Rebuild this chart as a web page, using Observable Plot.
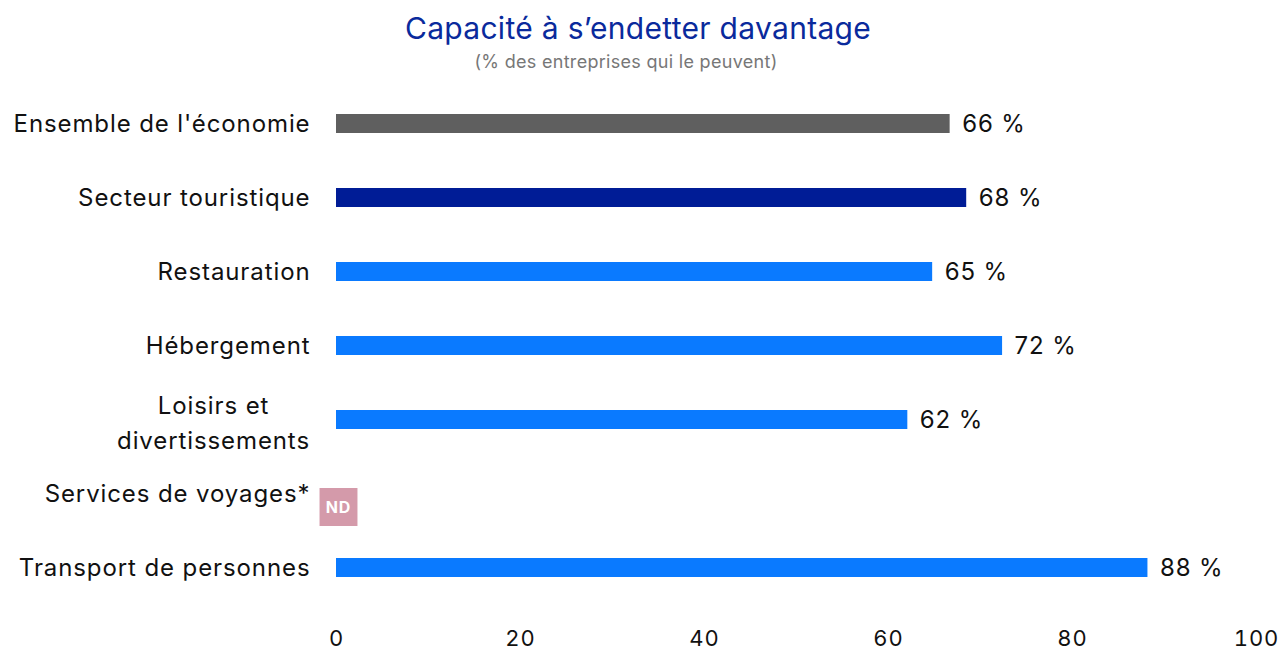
<!DOCTYPE html>
<html>
<head>
<meta charset="utf-8">
<script src="https://cdn.jsdelivr.net/npm/d3@7"></script>
<script src="https://cdn.jsdelivr.net/npm/@observablehq/plot@0.6"></script>
<style>
  html, body { margin: 0; padding: 0; background: #fff; }
  #wrap { width: 1286px; font-family: Inter, "Noto Sans", sans-serif; }
  #title { text-align: center; color: #0a2a9c; font-size: 30px; letter-spacing: 0.3px; height: 48px; line-height: 56px; padding-right: 10px; }
  #subtitle { text-align: center; color: #777; font-size: 18px; letter-spacing: 0.3px; height: 32px; line-height: 28px; padding-right: 34px; }
  #chart svg { display: block; }
</style>
</head>
<body>
<div id="wrap">
  <div id="title">Capacité à s’endetter davantage</div>
  <div id="subtitle">(% des entreprises qui le peuvent)</div>
  <div id="chart"></div>
</div>
<script>
const categories = ["Ensemble de l'économie", "Secteur touristique", "Restauration", "Hébergement", "Loisirs et divertissements", "Services de voyages*", "Transport de personnes"];
const values = [66.7, 68.5, 64.8, 72.4, 62.1, null, 88.2];
const valueLabels = ["66 %", "68 %", "65 %", "72 %", "62 %", "ND", "88 %"];
const groups = ["economie", "tourisme", "sous", "sous", "sous", "sous", "sous"];
const xTicks = [0, 20, 40, 60, 80, 100];
const wrappedCategory = "Loisirs et divertissements";
const wrappedLabel = "Loisirs et\ndivertissements";

const colors = {economie: "#5f5f5f", tourisme: "#001c96", sous: "#0a7aff"};

const data = categories.map((c, i) => ({category: c, value: values[i], label: valueLabels[i].replace(" ", "\u00a0"), group: groups[i]}));
const bars = data.filter(d => d.value != null);
const nd = data.filter(d => d.value == null).map(d => ({category: d.category, value: 0, label: d.label}));

const chart = Plot.plot({
  width: 1286,
  height: 571,
  marginLeft: 336,
  marginRight: 30,
  marginTop: 8,
  marginBottom: 48,
  style: {fontFamily: "Inter, 'Noto Sans', sans-serif", fontSize: "22px", color: "#111", letterSpacing: "0.9px"},
  x: {domain: [0, 100], ticks: xTicks, label: null},
  y: {domain: categories, paddingInner: 0.74, paddingOuter: 0.326, label: null},
  marks: [
    Plot.barX(bars, {x: "value", y: "category", fill: d => colors[d.group]}),
    Plot.text(bars, {x: "value", y: "category", text: "label", textAnchor: "start", dx: 12, fontSize: 24, fill: "#111"}),
    Plot.dot(nd, {x: "value", y: "category", symbol: "square", r: 21.4, fill: "#d49aaa", dx: 2, dy: 13}),
    Plot.text(nd, {x: "value", y: "category", text: "label", fill: "#fff", fontWeight: "bold", fontSize: 16, dx: 2, dy: 14}),
    Plot.axisX({ticks: xTicks, tickSize: 0, tickPadding: 27, fontSize: 22, label: null}),
    Plot.axisY({tickSize: 0, tickPadding: 26, fontSize: 24, label: null, tickFormat: d => d === wrappedCategory ? "" : d}),
    Plot.text([wrappedCategory], {x: () => 0, y: d => d, text: () => wrappedLabel, textAnchor: "middle", dx: -123, fontSize: 24, lineHeight: 1.45, fill: "#111"})
  ]
});
document.getElementById("chart").appendChild(chart);
</script>
</body>
</html>
